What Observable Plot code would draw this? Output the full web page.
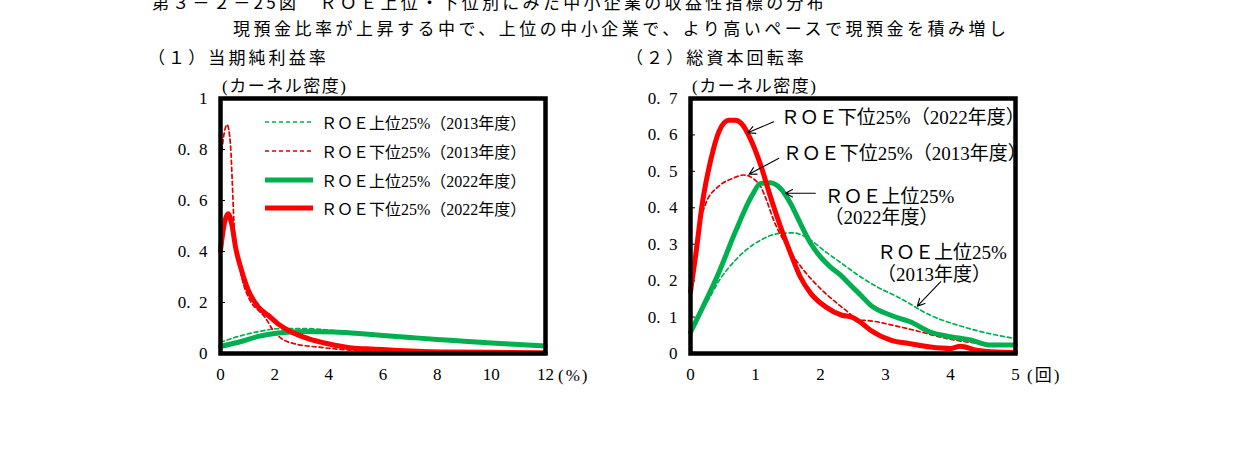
<!DOCTYPE html>
<html><head><meta charset="utf-8">
<script src="https://cdn.jsdelivr.net/npm/d3@7"></script>
<script src="https://cdn.jsdelivr.net/npm/@observablehq/plot@0.6"></script>
<style>
body{margin:0;background:#fff;}
#page{position:relative;width:1241px;height:466px;overflow:hidden;background:#fff;font-family:'Noto Sans CJK JP',sans-serif;color:#000;}
.abs{position:absolute;white-space:nowrap;}
.serif{font-family:'Liberation Serif','DejaVu Serif','Noto Sans CJK JP',serif;}
svg text{white-space:pre;}
#leftPlot,#rightPlot{position:absolute;}
#leftPlot{left:150px;top:88px;}
#rightPlot{left:620px;top:88px;}
.leg{position:absolute;left:265px;height:20px;display:flex;align-items:center;font-size:16px;}
.leg svg{margin-right:8px;}
</style></head><body><div id="page">
<div class="abs" style="left:152px;top:-8px;font-size:17px;line-height:20px;letter-spacing:3.3px;">第３－２－25図　ＲＯＥ上位・下位別にみた中小企業の収益性指標の分布</div>
<div class="abs" style="left:233px;top:18px;font-size:17px;line-height:20px;letter-spacing:3.5px;">現預金比率が上昇する中で、上位の中小企業で、より高いペースで現預金を積み増し</div>
<div class="abs" style="left:148px;top:47px;font-size:17px;line-height:20px;letter-spacing:3.1px;">（１）当期純利益率</div>
<div class="abs" style="left:626px;top:47px;font-size:17px;line-height:20px;letter-spacing:3.1px;">（２）総資本回転率</div>
<div class="abs serif" style="left:222px;top:77px;font-size:17px;line-height:20px;letter-spacing:1.5px;">(カーネル密度)</div>
<div class="abs serif" style="left:692px;top:77px;font-size:17px;line-height:20px;letter-spacing:1.5px;">(カーネル密度)</div>
<div class="abs serif" style="left:558px;top:366px;font-size:17px;line-height:20px;letter-spacing:2px;">(%)</div>
<div class="abs serif" style="left:1027px;top:366px;font-size:17px;line-height:20px;letter-spacing:2px;">(回)</div>
<div id="leftPlot"></div>
<div id="rightPlot"></div>
<div id="legend"></div>
</div>
<script>
// ---------- data: (1) 当期純利益率 ----------
const leftXTicks = [0, 2, 4, 6, 8, 10, 12];
const leftYTicks = [0, 0.2, 0.4, 0.6, 0.8, 1];

const leftGreen13X = [0, 0.66, 1.4, 2.13, 3.0, 4.2, 5, 6, 7, 8, 9, 10, 11, 12];
const leftGreen13Y = [0.044, 0.067, 0.086, 0.097, 0.098, 0.090, 0.082, 0.072, 0.063, 0.055, 0.048, 0.041, 0.035, 0.029];

const leftRed13X = [0, 0.1, 0.245, 0.37, 0.43, 0.49, 0.55, 0.67, 0.78, 1.09, 1.4, 1.64, 1.95, 2.26, 2.75, 3.61, 4.59, 5.5, 6.55, 8, 10, 12];
const leftRed13Y = [0.74, 0.84, 0.897, 0.816, 0.685, 0.528, 0.42, 0.358, 0.30, 0.208, 0.169, 0.142, 0.09, 0.058, 0.038, 0.025, 0.015, 0.011, 0.009, 0.005, 0.003, 0.003];

const leftGreen22X = [0, 0.66, 1.4, 2.13, 3.0, 4.2, 5, 6, 7, 8, 9, 10, 11, 12];
const leftGreen22Y = [0.028, 0.044, 0.067, 0.080, 0.086, 0.084, 0.079, 0.071, 0.063, 0.055, 0.048, 0.041, 0.035, 0.029];

const leftRed22X = [0, 0.14, 0.28, 0.43, 0.55, 0.78, 1.03, 1.4, 1.77, 2.13, 2.62, 3.24, 3.97, 4.83, 5.69, 6.55, 7.5, 8.5, 10, 12];
const leftRed22Y = [0.404, 0.51, 0.548, 0.50, 0.42, 0.325, 0.247, 0.182, 0.149, 0.116, 0.084, 0.058, 0.038, 0.022, 0.017, 0.012, 0.008, 0.006, 0.005, 0.003];

// ---------- data: (2) 総資本回転率 ----------
const rightXTicks = [0, 1, 2, 3, 4, 5];
const rightYTicks = [0, 0.1, 0.2, 0.3, 0.4, 0.5, 0.6, 0.7];

const rightGreen13X = [0, 0.1, 0.25, 0.44, 0.69, 0.95, 1.077, 1.385, 1.59, 1.85, 2.08, 2.33, 2.62, 2.9, 3.18, 3.69, 4.2, 4.72, 5];
const rightGreen13Y = [0.06, 0.10, 0.14, 0.20, 0.256, 0.297, 0.311, 0.33, 0.331, 0.311, 0.279, 0.247, 0.21, 0.18, 0.156, 0.105, 0.073, 0.05, 0.041];

const rightRed13X = [0, 0.1, 0.23, 0.44, 0.64, 0.82, 1.0, 1.08, 1.15, 1.28, 1.49, 1.74, 2.0, 2.26, 2.46, 2.55, 2.8, 3.1, 3.44, 3.95, 4.46, 5];
const rightRed13Y = [0.18, 0.32, 0.41, 0.46, 0.48, 0.49, 0.475, 0.458, 0.43, 0.366, 0.293, 0.229, 0.178, 0.137, 0.108, 0.093, 0.089, 0.078, 0.064, 0.041, 0.028, 0.025];

const rightGreen22X = [0, 0.18, 0.44, 0.69, 0.95, 1.077, 1.23, 1.385, 1.54, 1.69, 1.85, 2.0, 2.15, 2.31, 2.46, 2.62, 2.77, 3.08, 3.38, 3.69, 4.0, 4.31, 4.62, 5];
const rightGreen22Y = [0.058, 0.124, 0.224, 0.334, 0.435, 0.467, 0.469, 0.453, 0.412, 0.357, 0.302, 0.265, 0.238, 0.215, 0.188, 0.16, 0.133, 0.105, 0.087, 0.059, 0.046, 0.037, 0.023, 0.023];

const rightRed22X = [0, 0.08, 0.18, 0.31, 0.44, 0.59, 0.69, 0.79, 0.92, 1.08, 1.23, 1.385, 1.54, 1.69, 1.85, 2.08, 2.33, 2.48, 2.62, 2.77, 3.08, 3.38, 3.69, 4.0, 4.15, 4.4, 4.7, 5];
const rightRed22Y = [0.17, 0.27, 0.41, 0.53, 0.61, 0.64, 0.64, 0.63, 0.59, 0.517, 0.43, 0.348, 0.275, 0.21, 0.165, 0.128, 0.105, 0.10, 0.085, 0.064, 0.037, 0.027, 0.018, 0.014, 0.02, 0.009, 0.004, 0.003];

// ---------- labels ----------
const legendLabels = ["ＲＯＥ上位25%（2013年度）", "ＲＯＥ下位25%（2013年度）", "ＲＯＥ上位25%（2022年度）", "ＲＯＥ下位25%（2022年度）"];
const annotLabels = [["ＲＯＥ下位25%（2022年度）"], ["ＲＯＥ下位25%（2013年度）"], ["ＲＯＥ上位25%", "（2022年度）"], ["ＲＯＥ上位25%", "（2013年度）"]];

// ---------- styles ----------
const GREEN = "#00b050", RED = "#ff0000", RED_D = "#e00000";
const seriesStyle = [
  {stroke: GREEN, strokeWidth: 1.7, strokeDasharray: "4,3"},
  {stroke: RED_D, strokeWidth: 1.7, strokeDasharray: "4,3"},
  {stroke: GREEN, strokeWidth: 5},
  {stroke: RED, strokeWidth: 5}
];
const SERIF = "'Liberation Serif','DejaVu Serif','Noto Sans CJK JP',serif";

const toRows = (xs, ys) => xs.map((x, i) => ({x, y: ys[i]}));
const fmtY = d => d === 0 ? "0" : d === 1 ? "1" : d.toFixed(1).replace(".", ".  ");

function makePlot(xDomain, xTicks, yDomain, yTicks, series, extra) {
  return Plot.plot({
    width: 460, height: 300,
    marginLeft: 70, marginRight: 65, marginTop: 10, marginBottom: 35,
    style: {fontFamily: SERIF, fontSize: "17px", color: "#000", background: "transparent", overflow: "visible"},
    x: {domain: xDomain, ticks: xTicks},
    y: {domain: yDomain, ticks: yTicks},
    marks: [
      Plot.axisX({ticks: xTicks, tickSize: 0, tickPadding: 14, label: null, tickFormat: d => String(d), fontFamily: SERIF}),
      Plot.axisY({ticks: yTicks, tickSize: -5, tickPadding: 18, label: null, tickFormat: fmtY, fontFamily: SERIF}),
      ...series.map((s, i) => Plot.line(s, {x: "x", y: "y", curve: "monotone-x", ...seriesStyle[i]})),
      ...extra,
      Plot.frame({stroke: "#000", strokeWidth: 4.5})
    ]
  });
}

const leftSeries = [toRows(leftGreen13X, leftGreen13Y), toRows(leftRed13X, leftRed13Y), toRows(leftGreen22X, leftGreen22Y), toRows(leftRed22X, leftRed22Y)];
const rightSeries = [toRows(rightGreen13X, rightGreen13Y), toRows(rightRed13X, rightRed13Y), toRows(rightGreen22X, rightGreen22Y), toRows(rightRed22X, rightRed22Y)];

// annotation placement (data coordinates of the right panel)
const annotText = [
  {x: 1.39, y: 0.648, t: annotLabels[0][0]},
  {x: 1.42, y: 0.549, t: annotLabels[1][0]},
  {x: 2.06, y: 0.430, t: annotLabels[2][0]},
  {x: 2.06, y: 0.371, t: annotLabels[2][1]},
  {x: 2.87, y: 0.276, t: annotLabels[3][0]},
  {x: 2.87, y: 0.215, t: annotLabels[3][1]}
];
const annotArrows = [
  {x1: 1.28, y1: 0.636, x2: 0.88, y2: 0.606},
  {x1: 1.36, y1: 0.536, x2: 0.90, y2: 0.492},
  {x1: 1.92, y1: 0.440, x2: 1.46, y2: 0.440},
  {x1: 3.85, y1: 0.197, x2: 3.49, y2: 0.130}
];

document.getElementById("leftPlot").append(
  makePlot([0, 12], leftXTicks, [0, 1], leftYTicks, leftSeries, [])
);
document.getElementById("rightPlot").append(
  makePlot([0, 5], rightXTicks, [0, 0.7], rightYTicks, rightSeries, [
    Plot.arrow(annotArrows, {x1: "x1", y1: "y1", x2: "x2", y2: "y2", stroke: "#000", strokeWidth: 1.1, headLength: 11, headAngle: 55}),
    Plot.text(annotText, {x: "x", y: "y", text: "t", textAnchor: "start", lineAnchor: "middle", fontSize: 19, fill: "#000", fontFamily: SERIF})
  ])
);

// legend of panel (1)
const legendTop = [112, 141, 170, 198];
const legend = document.getElementById("legend");
legendLabels.forEach((lab, i) => {
  const st = seriesStyle[i];
  const row = document.createElement("div");
  row.className = "leg serif";
  row.style.top = legendTop[i] + "px";
  row.innerHTML = `<svg width="48" height="10"><line x1="0" x2="48" y1="5" y2="5" stroke="${st.stroke}" stroke-width="${st.strokeWidth}" ${st.strokeDasharray ? `stroke-dasharray="${st.strokeDasharray}"` : ""}/></svg><span>${lab}</span>`;
  legend.append(row);
});
</script>
</body></html>
